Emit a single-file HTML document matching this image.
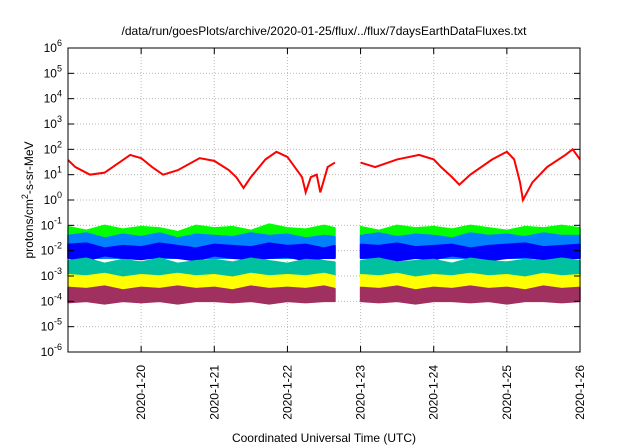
<!DOCTYPE html>
<html><head><meta charset="utf-8"><style>
body{margin:0;background:#fff}
svg{display:block;font-family:"Liberation Sans",sans-serif}
</style></head><body>
<svg id="c" width="640" height="448"></svg>
<script>
const times=[19,19.25,19.5,19.75,20,20.25,20.5,20.75,21,21.25,21.5,21.75,22,22.25,22.5,22.65,23,23.25,23.5,23.75,24,24.25,24.5,24.75,25,25.25,25.5,25.75,26];
const gapAfter=15;
const redT=[19,19.1,19.3,19.5,19.7,19.85,20,20.15,20.3,20.5,20.8,21,21.2,21.3,21.4,21.5,21.7,21.85,22,22.1,22.2,22.25,22.32,22.4,22.45,22.55,22.65,23,23.2,23.5,23.8,24,24.1,24.25,24.35,24.5,24.8,25,25.1,25.18,25.22,25.35,25.55,25.8,25.9,26];
const redV=[38,20,10,12,30,60,45,20,10,15,45,35,15,8,3,8,40,80,50,20,8,2,8,10,2,20,30,30,20,40,60,40,20,8,4,10,40,80,40,5,1,5,20,60,100,40];
const greenTop=[-1.05,-1.2,-1.0,-1.15,-1.05,-1.1,-1.25,-1.0,-1.1,-1.05,-1.2,-0.95,-1.1,-1.15,-1.0,-1.1,-1.05,-1.2,-1.0,-1.1,-1.05,-1.15,-1.0,-1.1,-1.2,-1.05,-1.1,-1.0,-1.1];
const lblueTop=[-1.4,-1.3,-1.5,-1.35,-1.45,-1.3,-1.5,-1.35,-1.4,-1.45,-1.3,-1.4,-1.35,-1.5,-1.4,-1.45,-1.4,-1.3,-1.45,-1.35,-1.4,-1.5,-1.3,-1.4,-1.35,-1.45,-1.3,-1.4,-1.4];
const lblueBot=[-2.3,-2.3,-2.3,-2.3,-2.3,-2.3,-2.3,-2.3,-2.3,-2.3,-2.3,-2.3,-2.3,-2.3,-2.3,-2.3,-2.3,-2.3,-2.3,-2.3,-2.3,-2.3,-2.3,-2.3,-2.3,-2.3,-2.3,-2.3,-2.3];
const dblueTop=[-1.75,-1.7,-1.9,-1.8,-1.85,-1.7,-1.8,-1.9,-1.75,-1.8,-1.85,-1.7,-1.8,-1.75,-1.9,-1.8,-1.75,-1.8,-1.7,-1.85,-1.8,-1.75,-1.9,-1.8,-1.75,-1.7,-1.85,-1.8,-1.75];
const dblueBot=[-2.3,-2.4,-2.2,-2.3,-2.35,-2.25,-2.3,-2.4,-2.2,-2.3,-2.35,-2.3,-2.25,-2.4,-2.3,-2.3,-2.3,-2.25,-2.4,-2.3,-2.35,-2.2,-2.3,-2.4,-2.3,-2.25,-2.35,-2.3,-2.3];
const tealTop=[-2.4,-2.3,-2.5,-2.35,-2.45,-2.3,-2.5,-2.4,-2.35,-2.45,-2.3,-2.4,-2.5,-2.35,-2.4,-2.45,-2.4,-2.3,-2.45,-2.4,-2.35,-2.5,-2.3,-2.4,-2.45,-2.35,-2.4,-2.3,-2.4];
const yellowTop=[-2.95,-3.0,-2.9,-3.05,-2.95,-3.0,-2.9,-3.0,-2.95,-3.05,-2.9,-3.0,-2.95,-3.0,-2.9,-3.0,-2.95,-3.0,-2.9,-3.05,-2.95,-3.0,-2.9,-3.0,-2.95,-3.05,-2.9,-3.0,-2.95];
const maroonTop=[-3.45,-3.5,-3.4,-3.55,-3.45,-3.5,-3.4,-3.5,-3.45,-3.55,-3.4,-3.5,-3.45,-3.5,-3.4,-3.5,-3.45,-3.5,-3.4,-3.55,-3.45,-3.5,-3.4,-3.5,-3.45,-3.55,-3.4,-3.5,-3.45];
const maroonBot=[-4.05,-4.0,-4.1,-4.0,-4.05,-4.0,-4.1,-4.0,-4.0,-4.05,-4.0,-4.1,-4.0,-4.05,-4.0,-4.0,-4.0,-4.05,-4.0,-4.1,-4.0,-4.0,-4.05,-4.0,-4.1,-4.0,-4.0,-4.05,-4.0];
const yTickExp=[6,5,4,3,2,1,0,-1,-2,-3,-4,-5,-6];
const xTickDays=[20,21,22,23,24,25,26];
const xTickLabels=["2020-1-20","2020-1-21","2020-1-22","2020-1-23","2020-1-24","2020-1-25","2020-1-26"];

const L=68,R=580,T=48,B=352;
const X=d=>L+(d-19)/7*(R-L);
const Y=lg=>T+(6-lg)/12*(B-T);
const NS="http://www.w3.org/2000/svg";
const svg=document.getElementById('c');
function mk(tag,attrs,parent){const e=document.createElementNS(NS,tag);for(const k in attrs)e.setAttribute(k,attrs[k]);(parent||svg).appendChild(e);return e;}

// grid
const grid=mk('g',{});


yTickExp.forEach(e=>{if(e!==6&&e!==-6)mk('line',{x1:L,x2:R,y1:Y(e),y2:Y(e),stroke:'#bbb','stroke-dasharray':'1,2'},grid);});
xTickDays.forEach(d=>{if(d!==26)mk('line',{x1:X(d),x2:X(d),y1:T,y2:B,stroke:'#bbb','stroke-dasharray':'1,2'},grid);});

function band(top,bot,color,name){
  [[0,gapAfter],[gapAfter+1,times.length-1]].forEach(([a,b])=>{
    let pts=[];
    for(let i=a;i<=b;i++)pts.push(X(times[i])+','+Y(top[i]));
    for(let i=b;i>=a;i--)pts.push(X(times[i])+','+Y(Array.isArray(bot)?bot[i]:bot));
    const p=mk('polygon',{points:pts.join(' '),fill:color,stroke:color,'stroke-width':1.5,'stroke-linejoin':'bevel'});
    
    
  });
}
band(greenTop,lblueBot,'#00ff00','series-green');
band(lblueTop,lblueBot,'#0080ff','series-light-blue');
band(dblueTop,dblueBot,'#0000ff','series-dark-blue');
band(tealTop,-3.0,'#00c0a0','series-teal');
band(yellowTop,-3.5,'#ffff00','series-yellow');
band(maroonTop,maroonBot,'#a03060','series-maroon');

// red line
[[19,22.65],[23,26]].forEach(([a,b])=>{
  const pts=[];
  redT.forEach((t,i)=>{if(t>=a&&t<=b)pts.push(X(t)+','+Y(Math.log10(redV[i])));});
  const pl=mk('polyline',{points:pts.join(' '),fill:'none',stroke:'#ff0000','stroke-width':2});
  
  
});

// frame
const fr=mk('rect',{x:L,y:T,width:R-L,height:B-T,fill:'none',stroke:'#000'});



yTickExp.forEach(e=>{
  const y=Y(e);
  mk('line',{x1:L,x2:L+6,y1:y,y2:y,stroke:'#000'});
  mk('line',{x1:R,x2:R-6,y1:y,y2:y,stroke:'#000'});
  const t=mk('text',{x:L-6,y:y+4,'text-anchor':'end','font-size':12});
  
  
  t.textContent='10';
  const s=mk('tspan',{dy:-6,'font-size':9},t);s.textContent=String(e);
});
xTickDays.forEach((d,i)=>{
  const x=X(d);
  mk('line',{x1:x,x2:x,y1:B,y2:B-6,stroke:'#000'});
  mk('line',{x1:x,x2:x,y1:T,y2:T+6,stroke:'#000'});
  const t=mk('text',{x:0,y:0,'text-anchor':'end','font-size':12,transform:`translate(${x+4},${B+13}) rotate(-90)`});
  
  
  t.textContent=xTickLabels[i];
});

const ti=mk('text',{x:324,y:35,'text-anchor':'middle','font-size':12});


ti.textContent='/data/run/goesPlots/archive/2020-01-25/flux/../flux/7daysEarthDataFluxes.txt';

const xl=mk('text',{x:324,y:442,'text-anchor':'middle','font-size':12});


xl.textContent='Coordinated Universal Time (UTC)';

const yl=mk('text',{x:0,y:0,'text-anchor':'middle','font-size':12,transform:'translate(33,200) rotate(-90)'});


yl.textContent='protons/cm';
const sup=mk('tspan',{dy:-5,'font-size':9},yl);sup.textContent='2';
const rest=mk('tspan',{dy:5},yl);rest.textContent='-s-sr-MeV';
</script>
</body></html>
